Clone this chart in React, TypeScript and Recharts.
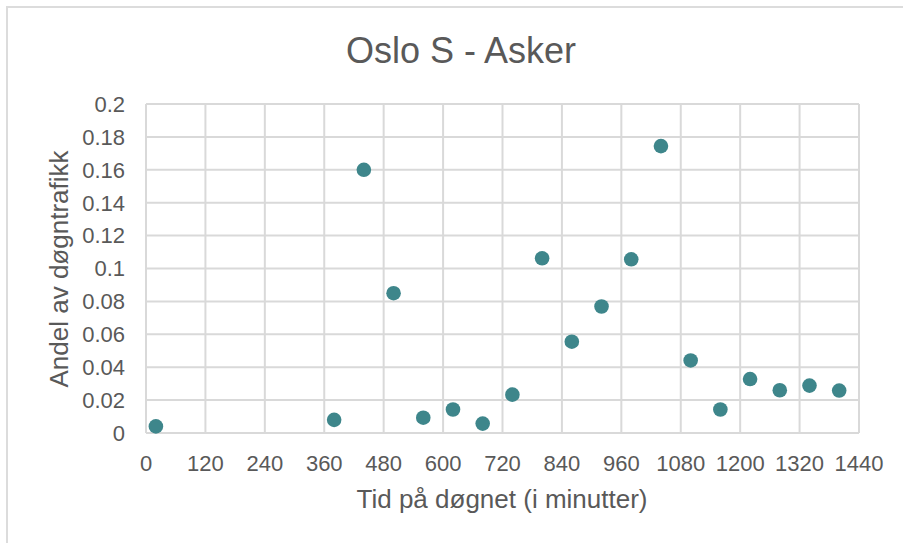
import React from "react";
import { ScatterChart, Scatter, XAxis, YAxis, CartesianGrid } from "recharts";

const minutes = [20, 380, 440, 500, 560, 620, 680, 740, 800, 860, 920, 980, 1040, 1100, 1160, 1220, 1280, 1340, 1400];
const shares = [0.004, 0.008, 0.16, 0.085, 0.0093, 0.0143, 0.0057, 0.0233, 0.1062, 0.0555, 0.0769, 0.1056, 0.1744, 0.0441, 0.0143, 0.0328, 0.026, 0.0288, 0.0258];
const xTicks = [0, 120, 240, 360, 480, 600, 720, 840, 960, 1080, 1200, 1320, 1440];
const yTicks = [0, 0.02, 0.04, 0.06, 0.08, 0.1, 0.12, 0.14, 0.16, 0.18, 0.2];

const title = "Oslo S - Asker";
const xTitle = "Tid på døgnet (i minutter)";
const yTitle = "Andel av døgntrafikk";

const data = minutes.map((m, i) => ({ x: m, y: shares[i] }));

const FONT = "'Liberation Sans', Arial, sans-serif";
const GRID = "#d9d9d9";
const TEXT = "#595959";

const Dot = (props: any) => <circle cx={props.cx} cy={props.cy} r={7.3} fill="#3e868b" />;

export default function App() {
  return (
    <div style={{ position: "absolute", left: 0, top: 0, width: 903, height: 543, background: "#fff", overflow: "hidden", fontFamily: FONT }}>
      <div style={{ position: "absolute", left: 6, top: 6, width: 920, height: 560, borderLeft: "2px solid #dcdcdc", borderTop: "2px solid #dcdcdc" }} />
      <ScatterChart width={903} height={543} margin={{ top: 104, right: 44, bottom: 70, left: 66 }}>
        <CartesianGrid stroke={GRID} strokeWidth={2} />
        <XAxis
          type="number"
          dataKey="x"
          domain={[0, 1440]}
          ticks={xTicks}
          height={40}
          tickSize={0}
          tickMargin={22}
          axisLine={{ stroke: GRID, strokeWidth: 2 }}
          tickLine={false}
          tick={{ fill: TEXT, fontSize: 22, fontFamily: FONT }}
          interval={0}
        />
        <YAxis
          type="number"
          dataKey="y"
          domain={[0, 0.2]}
          ticks={yTicks}
          width={80}
          tickSize={0}
          tickMargin={21}
          axisLine={false}
          tickLine={false}
          tick={{ fill: TEXT, fontSize: 22, fontFamily: FONT }}
          interval={0}
        />
        <Scatter data={data} shape={Dot} isAnimationActive={false} />
      </ScatterChart>
      <svg width={903} height={543} style={{ position: "absolute", left: 0, top: 0, pointerEvents: "none" }}>
        <text x={461} y={63} textAnchor="middle" fill={TEXT} fontSize={36} fontFamily={FONT}>{title}</text>
        <text x={502} y={508} textAnchor="middle" fill={TEXT} fontSize={26} fontFamily={FONT}>{xTitle}</text>
        <text x={0} y={0} transform="translate(68,269) rotate(-90)" textAnchor="middle" fill={TEXT} fontSize={26} fontFamily={FONT}>{yTitle}</text>
      </svg>
    </div>
  );
}
